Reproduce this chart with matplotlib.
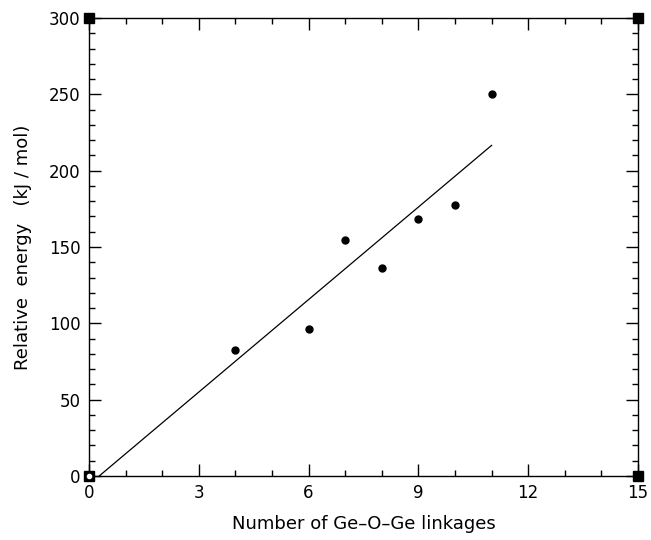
import numpy as np
import matplotlib
matplotlib.use("Agg")
import matplotlib.pyplot as plt
from matplotlib.ticker import MultipleLocator

linkages = [0, 4, 6, 7, 8, 9, 10, 11]
energy = [0, 82.5, 96.5, 154.5, 136.5, 168.5, 177.5, 250]

x_ticks = [0, 3, 6, 9, 12, 15]
y_ticks = [0, 50, 100, 150, 200, 250, 300]

fig = plt.figure(figsize=(6.51, 5.40), dpi=100)
ax = fig.add_axes([89/651, 1-476/540, (638-89)/651, (476-18)/540])

x = np.array(linkages, dtype=float)
y = np.array(energy, dtype=float)
slope, intercept = np.polyfit(x, y, 1)
xf = np.array([0.0, x.max()])
ax.plot(xf, slope*xf + intercept, color="black", lw=0.9, zorder=2)

ax.plot(x[1:], y[1:], "o", color="black", ms=5, zorder=3, clip_on=False)

# corner squares
for cx in (0, 15):
    for cy in (0, 300):
        ax.plot(cx, cy, "s", color="black", ms=6.5, clip_on=False, zorder=4)
ax.plot(x[0], y[0], "o", mfc="white", mec="white", ms=3, clip_on=False, zorder=5)

ax.set_xlim(0, 15)
ax.set_ylim(0, 300)
ax.set_xticks(x_ticks)
ax.set_yticks(y_ticks)
ax.xaxis.set_minor_locator(MultipleLocator(1))
ax.yaxis.set_minor_locator(MultipleLocator(10))
ax.tick_params(which="both", direction="in", top=True, right=True, width=1.0, colors="black")
ax.tick_params(which="major", length=8.5, labelsize=12, pad=6)
ax.tick_params(which="minor", length=4.5)
for s in ax.spines.values():
    s.set_linewidth(1.0)

ax.set_xlabel("Number of Ge\u2013O\u2013Ge linkages", fontsize=13, labelpad=9)
ax.set_ylabel("Relative  energy   (kJ / mol)", fontsize=13, labelpad=12)

fig.savefig("out.png", dpi=100)
